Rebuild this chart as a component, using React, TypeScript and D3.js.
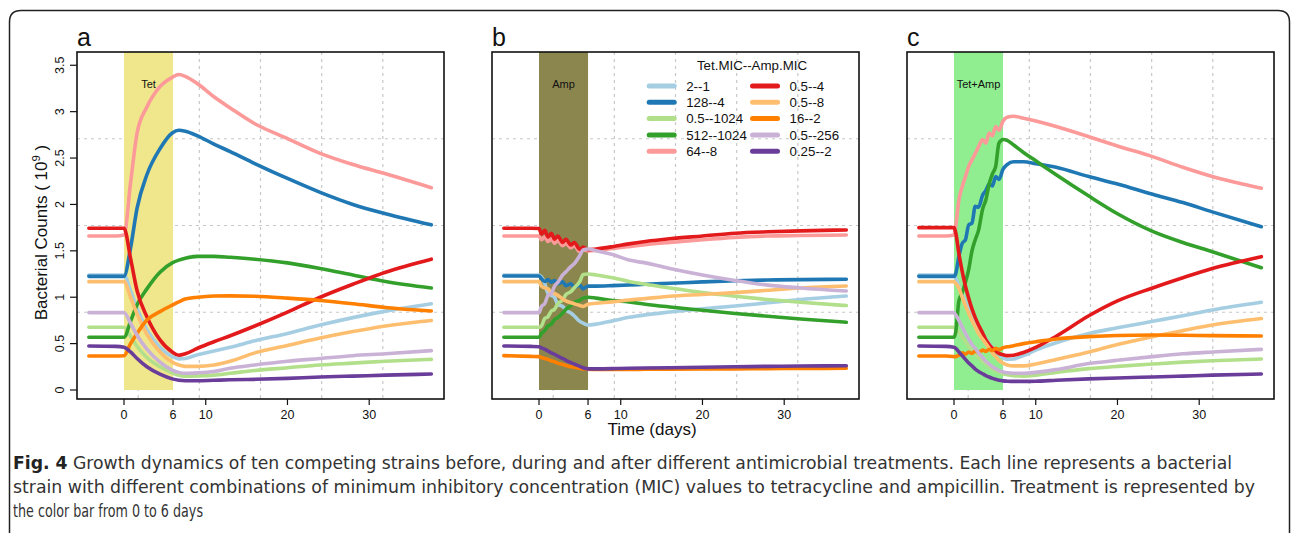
import React from "react";
import * as d3 from "d3";

// ---------- legend / strains ----------
const strains = ["2--1", "128--4", "0.5--1024", "512--1024", "64--8", "0.5--4", "0.5--8", "16--2", "0.5--256", "0.25--2"];
const colors = ["#A6CEE3", "#1F78B4", "#B2DF8A", "#33A02C", "#FB9A99", "#E31A1C", "#FDBF6F", "#FF7F00", "#CAB2D6", "#6A3D9A"];

const xTicks = [0, 6, 10, 20, 30];
const yTicks = [0, 0.5, 1, 1.5, 2, 2.5, 3, 3.5];
const yTickLabels = ["0", "0.5", "1", "1.5", "2", "2.5", "3", "3.5"];

const panelLetters = ["a", "b", "c"];
const treatments = ["Tet", "Amp", "Tet+Amp"];
const treatmentColors = ["#F0E68C", "#8B864E", "#90EE90"];
const treatmentStart = 0;
const treatmentEnd = 6;

// ---------- panel a (Tet) ----------
const timesA = [-4.3, -1, 0, 0.8, 1.6, 2.8, 4.4, 5.9, 6.7, 7.5, 9, 11, 13, 16, 20, 24, 28, 32, 37.6];
const aLightBlue = [1.24, 1.24, 1.24, 1.07, 0.88, 0.65, 0.46, 0.36, 0.335, 0.34, 0.38, 0.42, 0.46, 0.53, 0.61, 0.70, 0.78, 0.85, 0.93];
const aBlue = [1.225, 1.225, 1.225, 1.53, 1.96, 2.32, 2.60, 2.77, 2.80, 2.79, 2.74, 2.65, 2.57, 2.44, 2.28, 2.13, 2.00, 1.90, 1.78];
const aLightGreen = [0.676, 0.676, 0.676, 0.58, 0.47, 0.35, 0.25, 0.185, 0.16, 0.15, 0.152, 0.16, 0.18, 0.21, 0.24, 0.27, 0.29, 0.31, 0.33];
const aGreen = [0.568, 0.568, 0.568, 0.74, 0.92, 1.09, 1.27, 1.37, 1.40, 1.42, 1.44, 1.44, 1.43, 1.41, 1.37, 1.31, 1.24, 1.17, 1.10];
const aPink = [1.66, 1.66, 1.67, 2.23, 2.77, 3.05, 3.27, 3.37, 3.40, 3.38, 3.30, 3.16, 3.04, 2.87, 2.71, 2.55, 2.43, 2.33, 2.18];
const aRed = [1.743, 1.743, 1.743, 1.42, 1.07, 0.79, 0.54, 0.41, 0.375, 0.39, 0.45, 0.52, 0.585, 0.69, 0.84, 1.00, 1.14, 1.27, 1.41];
const aLightOrange = [1.168, 1.168, 1.168, 1.0, 0.82, 0.60, 0.41, 0.30, 0.27, 0.255, 0.255, 0.27, 0.31, 0.40, 0.48, 0.56, 0.63, 0.69, 0.75];
const aOrange = [0.366, 0.366, 0.37, 0.50, 0.61, 0.755, 0.845, 0.915, 0.95, 0.98, 1.0, 1.013, 1.015, 1.01, 0.99, 0.965, 0.93, 0.89, 0.852];
const aLavender = [0.834, 0.834, 0.834, 0.72, 0.59, 0.44, 0.30, 0.215, 0.19, 0.18, 0.185, 0.20, 0.235, 0.27, 0.31, 0.34, 0.37, 0.39, 0.424];
const aPurple = [0.474, 0.47, 0.46, 0.41, 0.34, 0.25, 0.17, 0.12, 0.105, 0.10, 0.10, 0.105, 0.11, 0.115, 0.125, 0.14, 0.15, 0.16, 0.172];

// ---------- panel b (Amp) ----------
const timesB = [-4.3, -1, 0, 0.3, 0.7, 1.1, 1.5, 1.9, 2.3, 2.9, 3.3, 3.9, 4.3, 5.0, 5.4, 6.0, 7, 9, 11, 13, 16, 20, 24, 28, 32, 37.6];
const bLightBlue = [1.24, 1.24, 1.24, 1.22, 1.15, 1.04, 1.02, 1.0, 0.92, 0.90, 0.86, 0.83, 0.80, 0.74, 0.72, 0.70, 0.71, 0.745, 0.783, 0.81, 0.84, 0.875, 0.905, 0.94, 0.975, 1.013];
const bBlue = [1.229, 1.229, 1.229, 1.20, 1.17, 1.19, 1.16, 1.18, 1.145, 1.165, 1.125, 1.145, 1.11, 1.13, 1.09, 1.12, 1.12, 1.125, 1.132, 1.14, 1.15, 1.165, 1.178, 1.185, 1.19, 1.193];
const bLightGreen = [0.676, 0.676, 0.676, 0.69, 0.77, 0.79, 0.85, 0.87, 0.93, 0.97, 1.03, 1.06, 1.10, 1.17, 1.245, 1.25, 1.24, 1.21, 1.17, 1.14, 1.10, 1.05, 1.01, 0.975, 0.945, 0.91];
const bGreen = [0.568, 0.568, 0.568, 0.61, 0.64, 0.69, 0.71, 0.76, 0.78, 0.83, 0.87, 0.91, 0.94, 0.97, 0.99, 1.0, 0.99, 0.965, 0.95, 0.925, 0.895, 0.86, 0.825, 0.795, 0.765, 0.73];
const bPink = [1.66, 1.66, 1.66, 1.62, 1.65, 1.60, 1.63, 1.58, 1.61, 1.555, 1.58, 1.53, 1.555, 1.49, 1.51, 1.50, 1.505, 1.525, 1.545, 1.565, 1.59, 1.62, 1.645, 1.66, 1.665, 1.67];
const bRed = [1.743, 1.743, 1.74, 1.68, 1.72, 1.65, 1.69, 1.625, 1.66, 1.59, 1.625, 1.563, 1.59, 1.516, 1.54, 1.512, 1.52, 1.545, 1.575, 1.60, 1.63, 1.66, 1.69, 1.705, 1.715, 1.725];
const bLightOrange = [1.168, 1.168, 1.168, 1.12, 1.10, 1.09, 1.05, 1.04, 1.02, 0.98, 0.96, 0.94, 0.93, 0.91, 0.90, 0.925, 0.935, 0.95, 0.97, 0.985, 1.01, 1.03, 1.05, 1.075, 1.10, 1.121];
const bOrange = [0.37, 0.362, 0.36, 0.35, 0.34, 0.33, 0.315, 0.305, 0.29, 0.275, 0.265, 0.25, 0.245, 0.232, 0.228, 0.224, 0.222, 0.222, 0.222, 0.223, 0.224, 0.226, 0.228, 0.23, 0.232, 0.234];
const bLavender = [0.834, 0.834, 0.834, 0.90, 0.93, 1.02, 1.04, 1.12, 1.16, 1.24, 1.275, 1.33, 1.36, 1.45, 1.51, 1.52, 1.50, 1.46, 1.40, 1.37, 1.31, 1.24, 1.18, 1.13, 1.10, 1.067];
const bPurple = [0.474, 0.47, 0.467, 0.455, 0.44, 0.42, 0.40, 0.385, 0.365, 0.34, 0.32, 0.295, 0.28, 0.255, 0.24, 0.228, 0.228, 0.23, 0.234, 0.237, 0.24, 0.245, 0.25, 0.255, 0.258, 0.262];

// ---------- panel c (Tet+Amp) ----------
const timesC = [-4.3, -1, 0, 0.2, 0.6, 1.0, 1.4, 1.8, 2.2, 2.6, 3.0, 3.5, 3.9, 4.3, 4.7, 5.1, 5.5, 6.0, 6.5, 7.3, 8.5, 10, 12.5, 16.5, 20, 24.3, 28, 31.6, 37.6];
const cLightBlue = [1.24, 1.24, 1.24, 1.21, 1.12, 1.03, 0.95, 0.87, 0.80, 0.73, 0.67, 0.60, 0.55, 0.50, 0.46, 0.42, 0.385, 0.35, 0.33, 0.335, 0.37, 0.43, 0.51, 0.61, 0.67, 0.74, 0.80, 0.862, 0.945];
const cBlue = [1.225, 1.225, 1.225, 1.25, 1.44, 1.58, 1.62, 1.78, 1.80, 1.98, 1.97, 2.10, 2.15, 2.22, 2.20, 2.30, 2.27, 2.38, 2.43, 2.46, 2.46, 2.44, 2.40, 2.30, 2.22, 2.11, 2.02, 1.92, 1.76];
const cLightGreen = [0.676, 0.676, 0.676, 0.66, 0.62, 0.57, 0.52, 0.47, 0.43, 0.39, 0.35, 0.31, 0.28, 0.25, 0.225, 0.205, 0.19, 0.175, 0.165, 0.155, 0.15, 0.16, 0.19, 0.23, 0.255, 0.28, 0.30, 0.315, 0.334];
const cGreen = [0.568, 0.568, 0.568, 0.62, 0.96, 1.05, 1.16, 1.30, 1.50, 1.62, 1.72, 1.95, 2.05, 2.22, 2.33, 2.41, 2.66, 2.70, 2.69, 2.64, 2.56, 2.47, 2.32, 2.09, 1.90, 1.71, 1.59, 1.49, 1.318];
const cPink = [1.66, 1.66, 1.67, 1.76, 2.05, 2.19, 2.30, 2.41, 2.48, 2.55, 2.62, 2.70, 2.66, 2.77, 2.74, 2.84, 2.80, 2.90, 2.94, 2.95, 2.93, 2.90, 2.84, 2.73, 2.63, 2.515, 2.40, 2.30, 2.174];
const cRed = [1.75, 1.75, 1.75, 1.70, 1.47, 1.28, 1.12, 0.99, 0.875, 0.78, 0.70, 0.615, 0.54, 0.49, 0.45, 0.42, 0.395, 0.38, 0.37, 0.375, 0.405, 0.46, 0.58, 0.80, 0.96, 1.10, 1.21, 1.31, 1.437];
const cLightOrange = [1.168, 1.168, 1.168, 1.15, 1.10, 1.00, 0.91, 0.83, 0.75, 0.68, 0.61, 0.55, 0.50, 0.45, 0.40, 0.36, 0.32, 0.29, 0.27, 0.26, 0.26, 0.28, 0.33, 0.41, 0.49, 0.575, 0.64, 0.70, 0.77];
const cOrange = [0.366, 0.366, 0.36, 0.36, 0.375, 0.40, 0.385, 0.41, 0.395, 0.42, 0.405, 0.43, 0.415, 0.44, 0.425, 0.45, 0.435, 0.455, 0.465, 0.478, 0.50, 0.52, 0.55, 0.575, 0.588, 0.593, 0.59, 0.586, 0.582];
const cLavender = [0.834, 0.834, 0.834, 0.81, 0.75, 0.68, 0.61, 0.55, 0.49, 0.45, 0.40, 0.35, 0.31, 0.28, 0.25, 0.23, 0.21, 0.195, 0.185, 0.18, 0.18, 0.19, 0.22, 0.285, 0.32, 0.36, 0.39, 0.41, 0.438];
const cPurple = [0.474, 0.47, 0.46, 0.45, 0.41, 0.37, 0.33, 0.29, 0.26, 0.225, 0.20, 0.175, 0.155, 0.14, 0.125, 0.115, 0.105, 0.098, 0.095, 0.093, 0.093, 0.095, 0.105, 0.12, 0.13, 0.14, 0.15, 0.16, 0.172];

const captionLines = [
  "Growth dynamics of ten competing strains before, during and after different antimicrobial treatments. Each line represents a bacterial",
  "strain with different combinations of minimum inhibitory concentration (MIC) values to tetracycline and ampicillin. Treatment is represented by",
  "the color bar from 0 to 6 days",
];

const panelTimes = [timesA, timesB, timesC];
const panelSeries = [
  [aLightBlue, aBlue, aLightGreen, aGreen, aPink, aRed, aLightOrange, aOrange, aLavender, aPurple],
  [bLightBlue, bBlue, bLightGreen, bGreen, bPink, bRed, bLightOrange, bOrange, bLavender, bPurple],
  [cLightBlue, cBlue, cLightGreen, cGreen, cPink, cRed, cLightOrange, cOrange, cLavender, cPurple],
];

// ---------- layout ----------
const W = 1292;
const H = 533;
const panelLefts = [77, 492, 907];
const PW = 367;
const TOP = 52;
const BOTTOM = 399;
const FONT = "'Liberation Sans', Arial, Helvetica, sans-serif";
const CAPFONT = "'Liberation Sans Narrow', 'DejaVu Sans Condensed', sans-serif";

const yScale = d3.scaleLinear().domain([-0.097, 3.643]).range([BOTTOM, TOP]);

function Panel({ idx }: { idx: number }) {
  const left = panelLefts[idx];
  const x = d3.scaleLinear().domain([-5.75, 39.15]).range([left, left + PW]);
  const times = panelTimes[idx];
  const line = d3
    .line<number>()
    .x((_, i) => x(times[i]))
    .y((v) => yScale(v))
    .curve(d3.curveMonotoneX);
  const gridX = d3.range(1, 6).map((k) => left + (k * PW) / 6);
  const gridY = d3.range(1, 4).map((k) => TOP + (k * (BOTTOM - TOP)) / 4);
  return (
    <g>
      {gridX.map((gx, i) => (
        <line key={"gx" + i} x1={gx} x2={gx} y1={TOP} y2={BOTTOM} stroke="#C8C8C8" strokeWidth={1.2} strokeDasharray="3,4" />
      ))}
      {gridY.map((gy, i) => (
        <line key={"gy" + i} x1={left} x2={left + PW} y1={gy} y2={gy} stroke="#C8C8C8" strokeWidth={1.2} strokeDasharray="3,4" />
      ))}
      <rect
        x={x(treatmentStart)}
        y={TOP}
        width={x(treatmentEnd) - x(treatmentStart)}
        height={yScale(0) - TOP}
        fill={treatmentColors[idx]}
      />
      <text x={x(3)} y={88} textAnchor="middle" fontSize={11} fontFamily={FONT} fill="#111">
        {treatments[idx]}
      </text>
      {panelSeries[idx].map((vals, i) => (
        <path
          key={strains[i]}
          d={line(vals) || ""}
          fill="none"
          stroke={colors[i]}
          strokeWidth={3.6}
          strokeLinecap="round"
          strokeLinejoin="round"
        />
      ))}
      <rect x={left} y={TOP} width={PW} height={BOTTOM - TOP} fill="none" stroke="#111" strokeWidth={1.6} />
      {xTicks.map((t) => (
        <g key={"xt" + t}>
          <line x1={x(t)} x2={x(t)} y1={BOTTOM} y2={BOTTOM + 6} stroke="#111" strokeWidth={1.2} />
          <text x={x(t)} y={419} textAnchor="middle" fontSize={12.5} fontFamily={FONT} fill="#111">
            {t}
          </text>
        </g>
      ))}
      <text x={left} y={46} fontSize={25} fontFamily={FONT} fill="#111">
        {panelLetters[idx]}
      </text>
    </g>
  );
}

export default function App() {
  const legendCols = [646.7, 750];
  const legendRows = [86, 102.3, 118.6, 134.9, 151.2];
  return (
    <svg
      width={W}
      height={H}
      viewBox={`0 0 ${W} ${H}`}
      style={{ position: "absolute", left: 0, top: 0, display: "block", background: "#fff" }}
    >
      <rect x={0} y={0} width={W} height={H} fill="#fff" />
      <path
        d="M9.5,545 L9.5,22 Q9.5,10.5 21,10.5 L1278,10.5 Q1289.5,10.5 1289.5,22 L1289.5,545"
        fill="none"
        stroke="#222"
        strokeWidth={1.5}
      />
      {[0, 1, 2].map((i) => (
        <Panel key={i} idx={i} />
      ))}
      {/* y axis on panel a */}
      {yTicks.map((v, i) => (
        <g key={"yt" + i}>
          <line x1={panelLefts[0] - 7} x2={panelLefts[0]} y1={yScale(v)} y2={yScale(v)} stroke="#111" strokeWidth={1.2} />
          <text
            transform={`translate(64,${yScale(v)}) rotate(-90)`}
            textAnchor="middle"
            fontSize={12.5}
            fontFamily={FONT}
            fill="#111"
          >
            {yTickLabels[i]}
          </text>
        </g>
      ))}
      <text transform="translate(47,232.5) rotate(-90)" textAnchor="middle" fontSize={17} fontFamily={FONT} fill="#111">
        Bacterial Counts ( 10
        <tspan dy={-7} fontSize={11.5}>9</tspan>
        <tspan dy={7}> )</tspan>
      </text>
      <text x={652} y={435} textAnchor="middle" fontSize={17} fontFamily={FONT} fill="#111">
        Time (days)
      </text>
      {/* legend */}
      <text x={752} y={70} textAnchor="middle" fontSize={13.3} fontFamily={FONT} fill="#111">
        Tet.MIC--Amp.MIC
      </text>
      {strains.map((s, i) => {
        const col = Math.floor(i / 5);
        const row = i % 5;
        const lx = legendCols[col];
        const ly = legendRows[row];
        return (
          <g key={"lg" + s}>
            <line x1={lx + 2.5} x2={lx + 27.5} y1={ly} y2={ly} stroke={colors[i]} strokeWidth={5} strokeLinecap="round" />
            <text x={lx + 39.5} y={ly + 4.7} fontSize={13.3} fontFamily={FONT} fill="#111">
              {s}
            </text>
          </g>
        );
      })}
      {/* caption */}
      <text x={13} y={469} fontSize={17} fontFamily={CAPFONT} fill="#333" textLength={1219} lengthAdjust="spacingAndGlyphs">
        <tspan fontWeight="bold" fill="#222">Fig. 4</tspan> {captionLines[0]}
      </text>
      <text x={13} y={493} fontSize={17} fontFamily={CAPFONT} fill="#333" textLength={1242} lengthAdjust="spacingAndGlyphs">
        {captionLines[1]}
      </text>
      <text x={13} y={517} fontSize={17} fontFamily={CAPFONT} fill="#333" textLength={190} lengthAdjust="spacingAndGlyphs">
        {captionLines[2]}
      </text>
    </svg>
  );
}
